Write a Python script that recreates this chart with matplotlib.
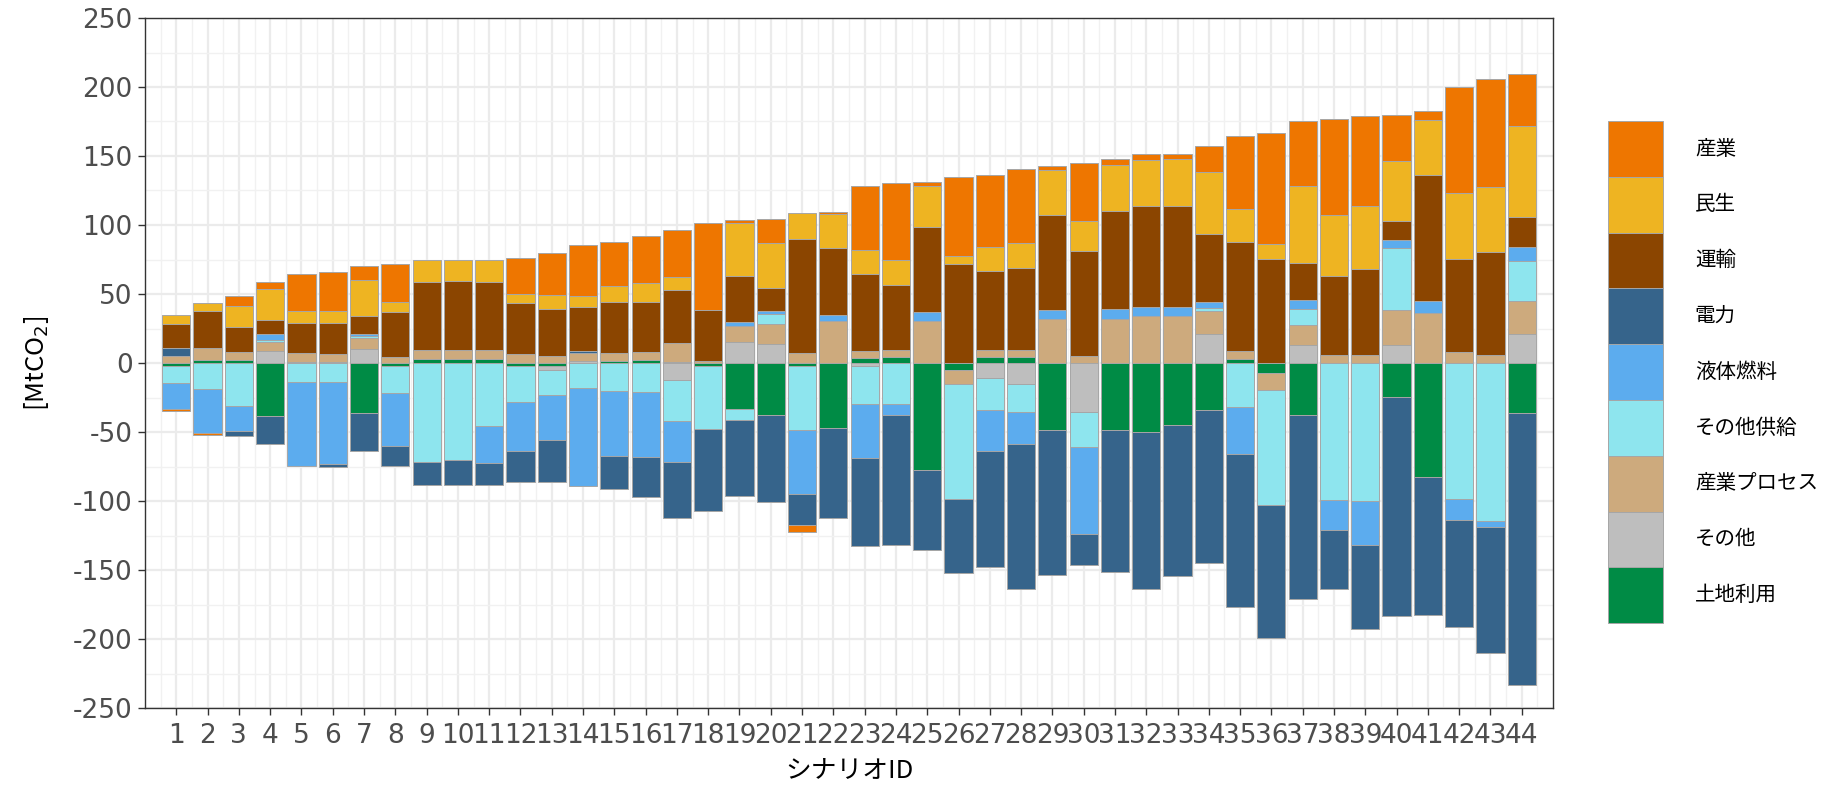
import numpy as np
import matplotlib
matplotlib.use('Agg')
import matplotlib.pyplot as plt
from matplotlib.patches import Patch
from matplotlib.ticker import FixedLocator, MultipleLocator

plt.rcParams['font.family'] = ['Noto Sans CJK JP', 'DejaVu Sans']

scenario_ids = list(range(1, 45))
categories = ['産業', '民生', '運輸', '電力', '液体燃料', 'その他供給', '産業プロセス', 'その他', '土地利用']
colors = ['#EE7600', '#EEB422', '#8B4500', '#36648B', '#5CACEE', '#8EE5EE', '#CDAA7D', '#BEBEBE', '#008B45']

industry = [-2, -1.5, 7.2, 5.5, 26.7, 28.2, 9.8, 27.3, 0, 0, 0, 26, 30.5, 36.8, 32, 33.5, 34, 62.9, 2.4, 18,
            -5.1, 1.5, 46.1, 55.9, 2.7, 57.5, 51.5, 53.9, 3.3, 42.5, 4.2, 4.2, 3.3, 19.2, 52.7, 80.6, 47, 69.8,
            65.5, 33.8, 6.6, 76.9, 78.8, 37.4]
residential = [6.3, 5.5, 15, 22, 8.7, 8.7, 25.8, 7.5, 16, 15.2, 16, 6.6, 10.5, 8.4, 12, 13.8, 9, 0, 38.3, 32.6,
               18.9, 24.3, 17.6, 17.7, 29.9, 5.9, 17.6, 17.9, 32, 21.3, 33.2, 33.2, 34.1, 44.6, 24, 10.8, 56.2, 44,
               45.5, 43.4, 39.8, 47.4, 47, 65.9]
transport = [17.5, 27, 18.5, 10, 22, 22.7, 13.4, 32.3, 49, 50, 49, 36.8, 33.8, 32, 36.8, 36.8, 38.6, 36.8, 33.3, 16.2,
             82.6, 48.8, 55.7, 47, 61.7, 71.6, 57.2, 59.3, 68.9, 76.3, 71.6, 73.1, 73.1, 49.4, 79.3, 75.1, 26.7, 57.2,
             62.3, 13.5, 91, 67.9, 74.2, 22.2]
power = [6, 0, -3.6, -19.8, 0, -2, -27.3, -14, -16.5, -18.2, -15.8, -22.7, -30.5, 1.5, -23.6, -29, -41, -60, -54.8,
         -62.4, -22.5, -65.3, -63.7, -94.6, -58.4, -53.9, -83.8, -104.8, -105.4, -23, -103.3, -113.2, -109.6, -110.5,
         -110.8, -96.7, -133.1, -42.8, -60.8, -158.9, -100.3, -77.5, -91.3, -197.6]
liquid_fuel = [-18.5, -31.5, -18, 4.5, -60.8, -59, 1.5, -39, 0, 0, -26.7, -35.4, -32.3, -71, -47.3, -47, -29.4, 0,
               2.9, 2.1, -47, 4.5, -39.6, -7.8, 6.3, 0, -30, -23.4, 6.6, -62.9, 6.9, 6.9, 6.9, 4.2, -34.2, 0, 6.3,
               -21.6, -32, 6, 9.3, -15.3, -4.5, 10.1]
other_supply = [-12, -19, -31.4, 1.5, -13.5, -14, 1.5, -19.5, -71.6, -70.4, -46, -26.4, -18, -18.3, -20.4, -21.3,
                -30, -45, -8.4, 7.8, -45.8, 0, -27, -29.6, 0, -83.2, -22.7, -20, 0, -25.5, 0, 0, 0, 2.4, -32, -83.2,
                11.7, -99.1, -99.7, 44.9, 0, -98.8, -114.7, 28.5]
industrial_process = [5, 8.5, 5.7, 6.3, 6, 5.5, 8, 4.5, 6.6, 6.6, 6.6, 6.5, 5, 5.4, 5.7, 5.7, 13.5, 1.5, 11.4, 14,
                      7.2, 30.2, 5.4, 5.4, 30.5, -9.6, 5.4, 5.4, 32, 5.1, 32, 33.8, 33.8, 17, 5.4, -12.6, 14.3, 6, 6,
                      25.4, 35.9, 7.8, 6, 24.5]
other = [0, 0, 0, 9, 0, 0, 10, 0, 0, 0, 0, 0, -3.4, 1.5, 0, 0, -12, 0, 15.5, 14, 0, 0, -2.4, 0, 0, 0, -11.1, -15.3,
         0, -35.3, 0, 0, 0, 20.7, 0, 0, 13.2, 0, 0, 12.9, 0, 0, 0, 20.7]
land_use = [-2.5, 2.5, 2, -38.6, 1, 1, -36.5, -2, 3, 3, 3, -2, -2, 0, 1.5, 2, 1, -2.5, -33, -38, -2.4, -47.3, 3.3,
            4.2, -77.2, -5.4, 4.2, 4.2, -48.2, 0, -48.2, -50.3, -44.6, -34.1, 3, -6.9, -37.9, 0, 0, -24.6, -82.3, 0,
            0, -35.9]

series = [industry, residential, transport, power, liquid_fuel, other_supply, industrial_process, other, land_use]
y_ticks = [250, 200, 150, 100, 50, 0, -50, -100, -150, -200, -250]

W, H = 1827, 793
fig = plt.figure(figsize=(W / 100, H / 100), dpi=100)
ax = fig.add_axes([145 / W, (H - 708) / H, (1553 - 145) / W, (708 - 18) / H])

x = np.array(scenario_ids, dtype=float)
pos_bottom = np.zeros(len(x))
neg_bottom = np.zeros(len(x))
edge = '#A6A6A6'
for vals, col in zip(reversed(series), reversed(colors)):
    v = np.array(vals, dtype=float)
    m = v > 0
    ax.bar(x[m], v[m], bottom=pos_bottom[m], width=0.9, color=col, edgecolor=edge, linewidth=0.7, zorder=3)
    pos_bottom[m] += v[m]
    m = v < 0
    ax.bar(x[m], v[m], bottom=neg_bottom[m], width=0.9, color=col, edgecolor=edge, linewidth=0.7, zorder=3)
    neg_bottom[m] += v[m]

tick_fs = 19
ax.set_xlim(0, 45)
ax.set_ylim(-250, 250)
ax.set_xticks(scenario_ids)
ax.set_xticklabels([str(s) for s in scenario_ids], family='DejaVu Sans', fontsize=tick_fs, color='#4D4D4D')
ax.set_yticks(y_ticks)
ax.set_yticklabels([str(t) for t in y_ticks], family='DejaVu Sans', fontsize=tick_fs, color='#4D4D4D')
ax.xaxis.set_minor_locator(FixedLocator(np.arange(0.5, 45, 1.0)))
ax.yaxis.set_minor_locator(MultipleLocator(25))
ax.tick_params(which='major', length=5, width=1.0, color='#333333', pad=4)
ax.tick_params(axis='x', which='major', pad=6)
ax.tick_params(which='minor', length=0)
ax.set_axisbelow(True)
ax.grid(which='major', color='#EBEBEB', linewidth=1.6, zorder=0)
ax.grid(which='minor', color='#F1F1F1', linewidth=1.0, zorder=0)
for s in ax.spines.values():
    s.set_color('#333333')
    s.set_linewidth(1.0)

ax.set_xlabel('シナリオID', fontsize=18.5, labelpad=6)
ax.set_ylabel('[MtCO$_2$]', fontsize=18.5, labelpad=16)

handles = [Patch(facecolor=c, edgecolor=edge, linewidth=0.7) for c in colors]
fs = 14.8
fpx = fs * 100 / 72
key_h = 55.8
hh = (key_h / fpx - 0.245) / 0.65
fig.legend(handles, categories, loc='upper left', bbox_to_anchor=(1608 / W, 1 - 121 / H), frameon=False,
           fontsize=fs, handlelength=55 / fpx, handleheight=hh, labelspacing=0, handletextpad=1.55,
           borderpad=0, borderaxespad=0)

fig.savefig('out.png', dpi=100)
